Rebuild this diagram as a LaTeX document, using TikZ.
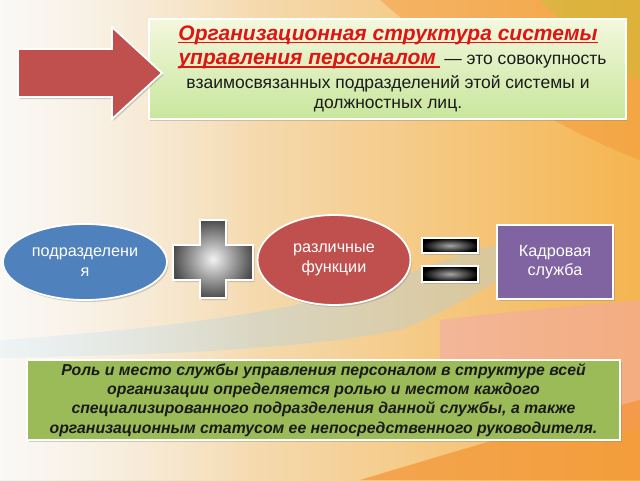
\documentclass[tikz,border=0pt]{standalone}
\usepackage{fontspec}
\setmainfont{Liberation Sans}
\usetikzlibrary{shapes.geometric,shadows,fadings}
\definecolor{arrowred}{HTML}{C0504D}
\definecolor{ellblue}{HTML}{4F81BD}
\definecolor{boxpurple}{HTML}{8064A2}
\definecolor{boxgreen}{HTML}{9BBB59}
\definecolor{headred}{HTML}{DD1515}
\definecolor{greentop}{HTML}{F3F8DE}
\definecolor{greenbot}{HTML}{C8E69C}
\definecolor{bgleft}{HTML}{F5F2EC}
\definecolor{bgmid}{HTML}{FBE29A}
\definecolor{bgright}{HTML}{F5B550}
\definecolor{bandblue}{HTML}{A9D0E6}
\definecolor{bandpink}{HTML}{F2A6B0}
\definecolor{bandorange}{HTML}{F39433}
\definecolor{textdark}{HTML}{1A1A1A}
\newcommand\myredul[1]{\setbox0\hbox{#1}\rlap{\color{headred}\rule[-3.2pt]{\wd0}{1.4pt}}\box0}
\tikzset{
  shp/.style={draw=white, line width=1.8pt, drop shadow={opacity=0.35, shadow xshift=1.5pt, shadow yshift=-2pt}},
  lbl/.style={text=white, align=center, font=\fontsize{16.2}{19.5}\selectfont},
  deftext/.style={text=textdark, font=\fontsize{17.5}{20}\selectfont},
}
\begin{document}
\begin{tikzpicture}[x=1pt,y=-1pt]
\useasboundingbox (0,0) rectangle (640,480);
% background
\shade[left color=bgleft, middle color=bgmid, right color=bgright] (0,0) rectangle (640,480);
\fill[bandorange, opacity=0.45] (380,0) .. controls (460,70) and (560,130) .. (640,160) -- (640,0) -- cycle;
\fill[yellow!60!green, opacity=0.25] (540,0) .. controls (580,40) and (610,70) .. (640,80) -- (640,0) -- cycle;
\fill[bandblue, opacity=0.35] (0,340) .. controls (150,330) and (300,312) .. (390,280) .. controls (440,262) and (470,250) .. (500,245) -- (520,270) .. controls (480,290) and (440,315) .. (400,330) .. controls (300,350) and (150,355) .. (0,358) -- cycle;
\fill[bandpink, opacity=0.5] (440,320) .. controls (520,310) and (590,305) .. (640,300) -- (640,430) -- (440,440) -- cycle;
\fill[bandorange, opacity=0.7] (360,480) .. controls (460,450) and (560,420) .. (640,400) -- (640,480) -- cycle;
\fill[white, opacity=0.55, path fading=east] (0,0) rectangle (260,480);
% definition box
\node[shp, rectangle, top color=greentop, bottom color=greenbot, minimum width=477pt, minimum height=100pt, anchor=north west] (defbox) at (148,18) {};
\node[text=headred, font=\fontsize{21}{23}\selectfont\bfseries\itshape] (t1) at (388,35) {\myredul{Организационная структура системы}};
\node[deftext, anchor=west] (t2) at (175,61) {{\color{headred}\fontsize{21}{23}\selectfont\bfseries\itshape\myredul{управления персоналом\,}}\ — это совокупность};
\node[deftext] (t3) at (388,84) {взаимосвязанных подразделений этой системы и};
\node[deftext] (t4) at (388,106) {должностных лиц.};
% arrow
\path[shp, fill=arrowred] (18,49) coordinate (a1) -- (112,49) -- (112,27) -- (162,73) coordinate (atip) -- (112,119) -- (112,97) -- (18,97) -- cycle;
% row 2
\node[shp, ellipse, fill=ellblue, minimum width=164pt, minimum height=76pt, lbl] (podr) at (85,262) {подразделени\\я};
\path[shp, inner color=gray!10, outer color=gray!60!black] (200,220) -- (226,220) -- (226,245) -- (253,245) -- (253,280) -- (226,280) -- (226,298) -- (200,298) -- (200,280) -- (173,280) -- (173,245) -- (200,245) -- cycle;
\node[shp, ellipse, fill=arrowred, minimum width=153pt, minimum height=90pt, lbl] (func) at (334,260) {различные\\функции};
\path[shp, inner color=gray!70, outer color=black] (422,238) rectangle (478,253);
\path[shp, inner color=gray!70, outer color=black] (422,266) rectangle (478,282);
\node[shp, rectangle, fill=boxpurple, minimum width=116pt, minimum height=74pt, lbl] (kadr) at (555,262) {Кадровая\\служба};
% bottom box
\node[shp, rectangle, fill=boxgreen, minimum width=593pt, minimum height=80pt, text=textdark, align=center, font=\fontsize{15.8}{19.2}\selectfont\bfseries\itshape] (role) at (323.5,400) {Роль и место службы управления персоналом в структуре всей\\организации определяется ролью и местом каждого\\специализированного подразделения данной службы, а также\\организационным статусом ее непосредственного руководителя.};
\end{tikzpicture}
\end{document}
